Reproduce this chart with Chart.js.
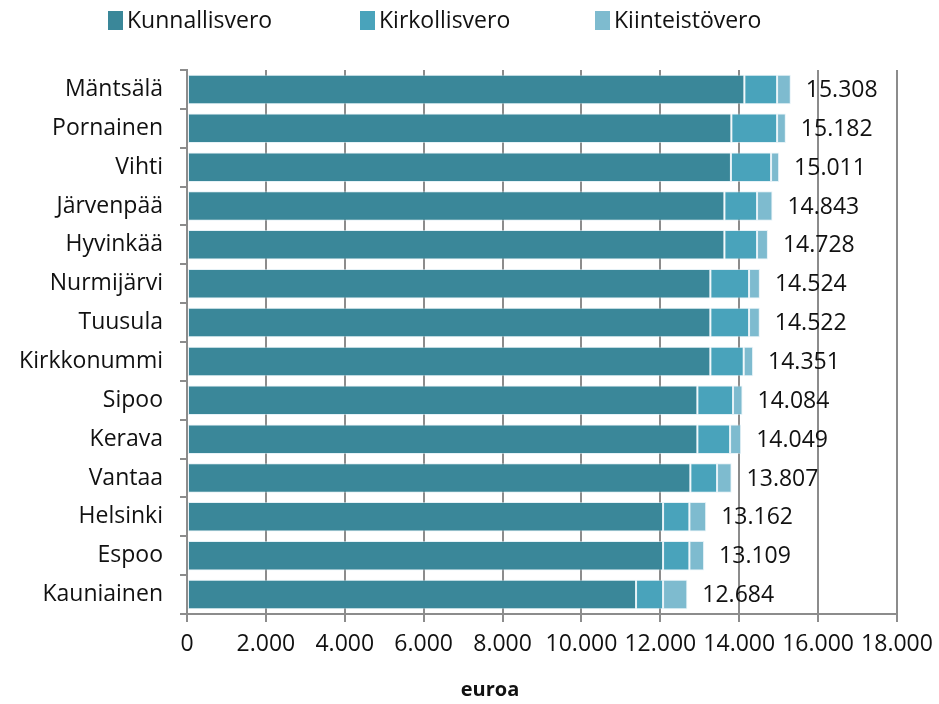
<!DOCTYPE html>
<html>
<head>
<meta charset="utf-8">
<script src="https://cdn.jsdelivr.net/npm/chart.js@4"></script>
<style>
  html, body { margin: 0; padding: 0; background: #fff; }
  #wrap { width: 939px; height: 704px; }
</style>
</head>
<body>
<div id="wrap"><canvas id="chart" width="939" height="704"></canvas></div>
<script>
const municipalities = [
  "Mäntsälä", "Pornainen", "Vihti", "Järvenpää", "Hyvinkää", "Nurmijärvi", "Tuusula",
  "Kirkkonummi", "Sipoo", "Kerava", "Vantaa", "Helsinki", "Espoo", "Kauniainen"
];
const kunnallisvero = [14130, 13800, 13790, 13624, 13624, 13268, 13268, 13268, 12939, 12939, 12761, 12069, 12069, 11384];
const kirkollisvero = [830, 1160, 1017, 828, 828, 981, 981, 846, 904, 829, 677, 667, 667, 685];
const kiinteistovero = [348, 222, 204, 391, 276, 275, 273, 237, 241, 281, 369, 426, 373, 615];
const totalLabels = ["15.308", "15.182", "15.011", "14.843", "14.728", "14.524", "14.522",
  "14.351", "14.084", "14.049", "13.807", "13.162", "13.109", "12.684"];
const seriesNames = ["Kunnallisvero", "Kirkollisvero", "Kiinteistövero"];
const seriesColors = ["#3a8799", "#49a3bb", "#7ebbcf"];

const FONT = "'Open Sans', 'Noto Sans', sans-serif";
const GRID = "#8c8c8c";
const TEXT = "#111";

// totals right of each bar, plus the legend row and the axis title
const extrasPlugin = {
  id: "extras",
  afterDatasetsDraw(chart) {
    const ctx = chart.ctx;
    const meta = chart.getDatasetMeta(chart.data.datasets.length - 1);
    ctx.save();
    ctx.font = "23px " + FONT;
    ctx.fillStyle = TEXT;
    ctx.textAlign = "left";
    ctx.textBaseline = "middle";
    meta.data.forEach((bar, i) => {
      ctx.fillText(totalLabels[i], bar.x + 15, bar.y + 1);
    });
    ctx.restore();
  },
  afterDraw(chart) {
    const ctx = chart.ctx;
    ctx.save();
    const starts = [108, 360, 595];
    ctx.font = "23px " + FONT;
    ctx.textBaseline = "middle";
    ctx.textAlign = "left";
    chart.data.datasets.forEach((ds, i) => {
      ctx.fillStyle = ds.backgroundColor;
      ctx.fillRect(starts[i], 11, 15, 19);
      ctx.fillStyle = TEXT;
      ctx.fillText(ds.label, starts[i] + 19, 21);
    });
    ctx.font = "bold 20px " + FONT;
    ctx.textAlign = "center";
    ctx.fillText("euroa", 490, 690);
    ctx.restore();
  }
};

new Chart(document.getElementById("chart"), {
  type: "bar",
  data: {
    labels: municipalities,
    datasets: [kunnallisvero, kirkollisvero, kiinteistovero].map((values, i) => ({
      label: seriesNames[i],
      data: values,
      backgroundColor: seriesColors[i],
      borderColor: "rgba(210, 232, 240, 0.55)",
      borderWidth: 1,
      borderSkipped: false,
      categoryPercentage: 1,
      barPercentage: 0.76
    }))
  },
  options: {
    indexAxis: "y",
    responsive: false,
    animation: false,
    layout: { padding: { left: 0, right: 42, top: 70, bottom: 0 } },
    plugins: {
      legend: { display: false },
      tooltip: { enabled: false }
    },
    scales: {
      x: {
        stacked: true,
        min: 0,
        max: 18000,
        ticks: {
          stepSize: 2000,
          padding: 9,
          color: TEXT,
          font: { family: FONT, size: 23 },
          maxRotation: 0,
          callback: (v) => v === 0 ? "0" : (v / 1000).toFixed(3)
        },
        grid: { color: GRID, lineWidth: 2, tickLength: 8 },
        border: { color: GRID, width: 2 },
        afterFit(scale) {
          scale.height = 90;
          scale.paddingRight = 0;
          scale.paddingLeft = 0;
        }
      },
      y: {
        stacked: true,
        ticks: {
          padding: 17,
          color: TEXT,
          font: { family: FONT, size: 23 }
        },
        grid: { drawOnChartArea: false, color: GRID, lineWidth: 2, tickLength: 7 },
        border: { color: GRID, width: 2 },
        afterFit(scale) { scale.width = 187; }
      }
    }
  },
  plugins: [extrasPlugin]
});
</script>
</body>
</html>
